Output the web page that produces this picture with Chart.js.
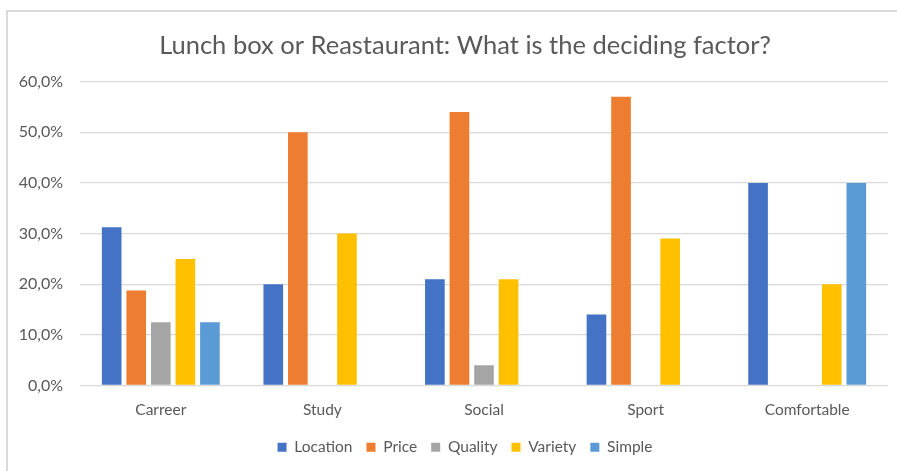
<!DOCTYPE html>
<html>
<head>
<meta charset="utf-8">
<script src="https://cdn.jsdelivr.net/npm/chart.js@4/dist/chart.umd.min.js"></script>
<style>
    html, body { margin: 0; padding: 0; background: #fff; }
    #wrap { position: relative; width: 897px; height: 471px; overflow: hidden; }
    #frame {
        position: absolute; left: 6px; top: 10px; width: 900px; height: 480px;
        border-top: 2px solid #d9d9d9; border-left: 2px solid #d9d9d9;
    }
    canvas { position: absolute; left: 0; top: 0; }
</style>
</head>
<body>
<div id="wrap">
    <div id="frame"></div>
    <canvas id="mainChart" width="897" height="471"></canvas>
</div>
<script>
// chart values (percent)
const categories = ['Carreer', 'Study', 'Social', 'Sport', 'Comfortable'];
const location_ = [31.25, 20, 21, 14, 40];
const price = [18.75, 50, 54, 57, 0];
const quality = [12.5, 0, 4, 0, 0];
const variety = [25, 30, 21, 29, 20];
const simple = [12.5, 0, 0, 0, 40];
const yTicks = [0, 10, 20, 30, 40, 50, 60];

const textColor = '#595959';
const fontFamily = 'Lato, "Open Sans", sans-serif';

function series(label, data, color) {
    return { label: label, data: data, backgroundColor: color, borderWidth: 0 };
}

// title and legend are centred on the outer frame (which runs past the right edge),
// so nudge their boxes to the right after layout
const shiftBoxes = {
    id: 'shiftBoxes',
    afterLayout(chart) {
        [chart.titleBlock, chart.legend].forEach(b => {
            if (!b) return;
            b.left += 21;
            b.right += 21;
        });
    }
};

const ctx = document.getElementById('mainChart').getContext('2d');
new Chart(ctx, {
    type: 'bar',
    data: {
        labels: categories,
        datasets: [
            series('Location', location_, '#4472c4'),
            series('Price', price, '#ed7d31'),
            series('Quality', quality, '#a5a5a5'),
            series('Variety', variety, '#ffc000'),
            series('Simple', simple, '#5b9bd5')
        ]
    },
    plugins: [shiftBoxes],
    options: {
        responsive: false,
        animation: false,
        devicePixelRatio: 1,
        layout: { padding: { left: 0, right: 9, top: 0, bottom: 6 } },
        datasets: {
            bar: { categoryPercentage: 0.76, barPercentage: 0.8 }
        },
        plugins: {
            title: {
                display: true,
                text: 'Lunch box or Reastaurant: What is the deciding factor?',
                color: textColor,
                font: { family: fontFamily, size: 25.5, weight: 'normal' },
                padding: { top: 30, bottom: 21 }
            },
            legend: {
                position: 'bottom',
                labels: {
                    color: textColor,
                    font: { family: fontFamily, size: 15.5 },
                    boxWidth: 9,
                    boxHeight: 9,
                    padding: 14
                }
            },
            tooltip: { enabled: false }
        },
        scales: {
            y: {
                min: 0,
                max: 60,
                afterBuildTicks: (scale) => { scale.ticks = yTicks.map(v => ({ value: v })); },
                afterFit: (scale) => { scale.width = 80; },
                grid: { color: '#d9d9d9', lineWidth: 1.3, drawTicks: false },
                border: { display: false },
                ticks: {
                    padding: 17,
                    color: textColor,
                    font: { family: fontFamily, size: 16 },
                    callback: (v) => v.toFixed(1).replace('.', ',') + '%'
                }
            },
            x: {
                afterFit: (scale) => { scale.height = 40; },
                grid: { display: false },
                border: { display: false },
                ticks: {
                    padding: 7,
                    color: textColor,
                    font: { family: fontFamily, size: 15.5 }
                }
            }
        }
    }
});
</script>
</body>
</html>
